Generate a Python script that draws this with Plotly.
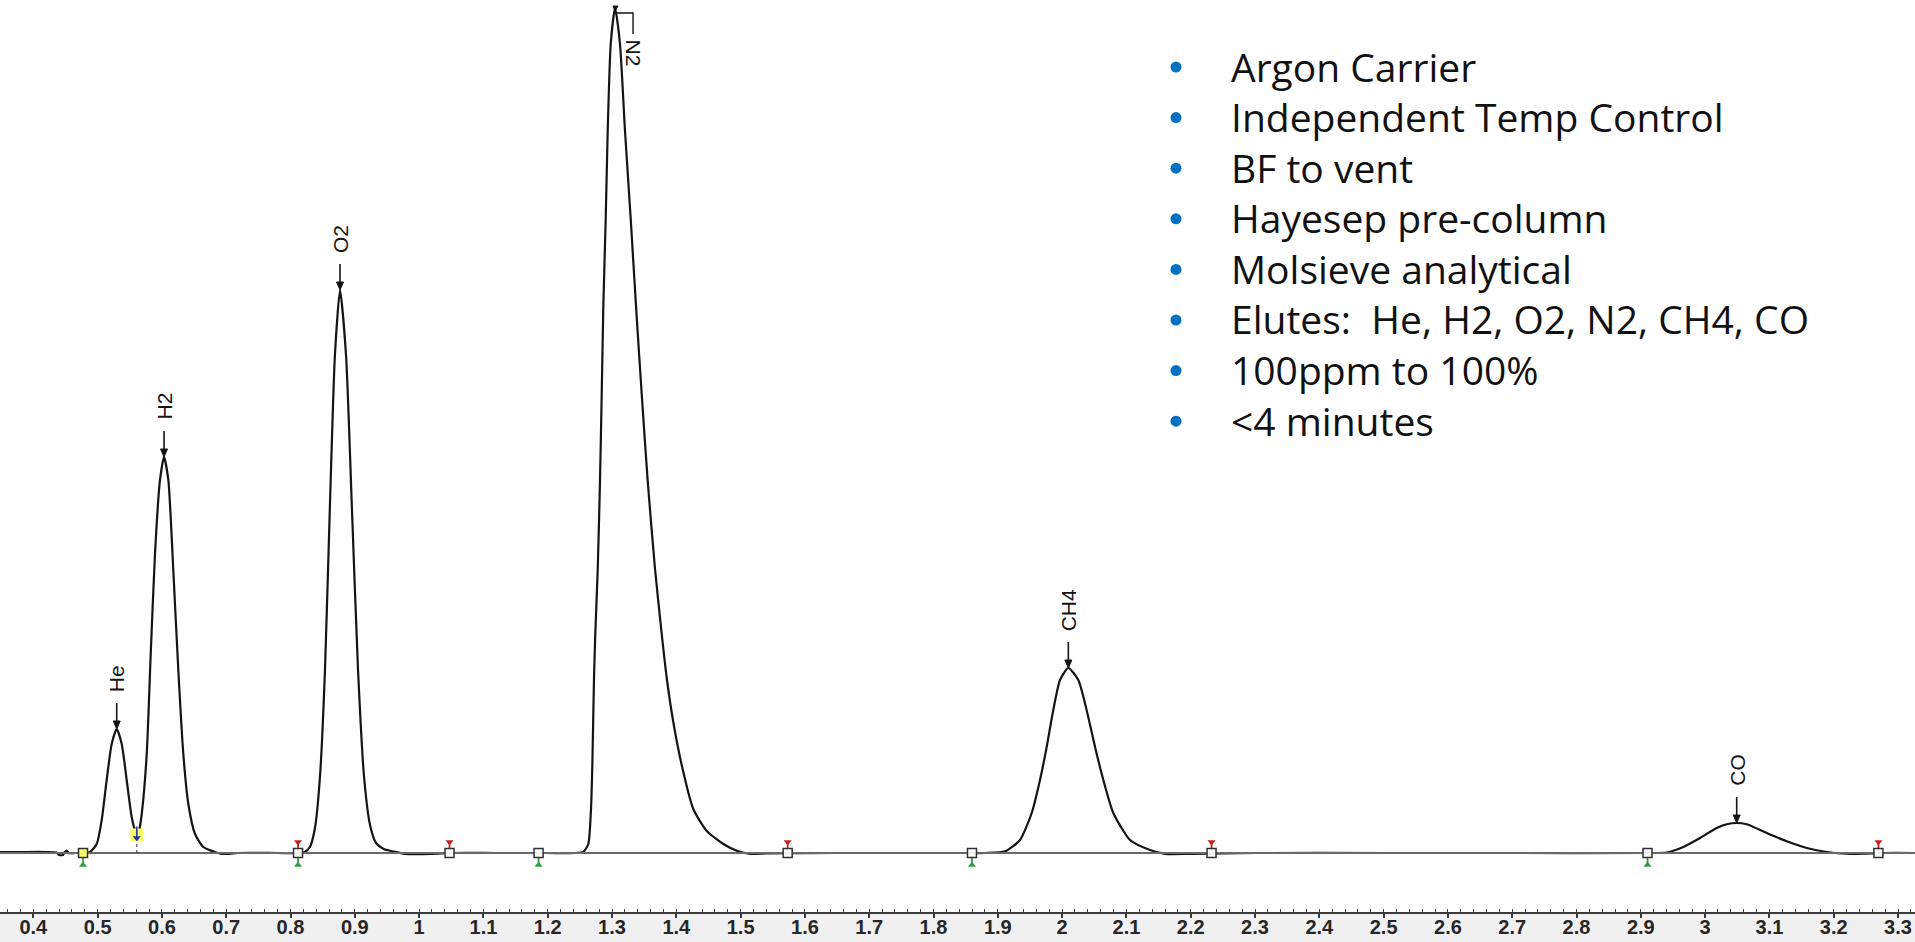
import plotly.graph_objects as go

# Chromatogram trace: retention time (min) vs detector response
time_min = [
    0.3482, 0.380, 0.420, 0.436, 0.440, 0.446, 0.449, 0.452, 0.455, 0.465, 0.478,
    0.4882, 0.4986, 0.5064, 0.5141, 0.5219, 0.5297, 0.5375, 0.5452, 0.5530, 0.5582, 0.5610, 0.5649, 0.5686,
    0.5764, 0.5826, 0.5893, 0.5970, 0.6033, 0.6100, 0.6177, 0.6255, 0.6333, 0.6411, 0.6515, 0.6644, 0.6800,
    0.692, 0.705, 0.718, 0.780,
    0.815, 0.822, 0.8302, 0.838, 0.8458, 0.8536, 0.861, 0.869, 0.877, 0.8864, 0.8957, 0.905, 0.9144, 0.9237,
    0.933, 0.945, 0.960, 0.978, 1.020, 1.050, 1.120, 1.200, 1.245,
    1.2554, 1.2631, 1.2673, 1.2694, 1.2720, 1.2740, 1.2778, 1.2813, 1.2840, 1.2865, 1.2902, 1.2933, 1.2980,
    1.3047, 1.3124, 1.3202, 1.3291, 1.3373, 1.3462, 1.3555, 1.3669, 1.3773, 1.3851, 1.3953, 1.4084, 1.4264,
    1.4473, 1.4731, 1.4950, 1.5150, 1.540, 1.650, 1.750, 1.850, 1.880,
    1.9112, 1.9345, 1.9527, 1.9656, 1.9760, 1.9854, 1.9967, 2.0097, 2.0252, 2.0392, 2.0512, 2.0641, 2.0796,
    2.1056, 2.1367, 2.1600, 2.200, 2.300, 2.500, 2.700, 2.900,
    2.9402, 2.9661, 2.9921, 3.0180, 3.0336, 3.0491, 3.0647, 3.0958, 3.1269, 3.1580, 3.1891, 3.2253, 3.2800, 3.3264,
]
signal = [
    1, 1, 1, 0.5, -2, -2, 1, 2.5, 0, 0, 0,
    1, 9, 33, 73, 109, 124, 109, 73, 36, 23, 20, 24, 39,
    99, 199, 300, 373, 396, 373, 283, 183, 99, 49, 19, 6, 1.5,
    -0.8, -0.8, 0, 0,
    0, 1, 6, 25, 76, 183, 341, 497, 563, 497, 341, 183, 76, 28,
    10, 4, 1.5, -0.8, -0.8, 0, 0, 0, 0,
    1, 9, 44, 88, 175, 219, 284, 372, 459, 547, 634, 722, 809,
    845, 809, 722, 634, 547, 459, 372, 284, 219, 175, 131, 88, 44,
    22, 9, 2, -0.8, -0.5, 0, 0, 0, 0,
    1.6, 13, 40, 73, 106, 140, 173, 185, 173, 140, 106, 73, 40,
    13, 3, -0.8, -0.8, 0, 0, 0, 0,
    0.5, 6, 15, 25, 28.7, 30, 28.7, 20, 11.7, 5, 1, -0.8, 0, 0,
]

# Identified components: name, apex retention time, apex response
peak_names = ["He", "H2", "O2", "N2", "CH4", "CO"]
peak_rt = [0.5297, 0.6033, 0.877, 1.3047, 2.0097, 3.0491]
peak_height = [124, 396, 563, 845, 185, 30]

# Integration events
peak_starts = [0.4773, 0.8117, 1.1858, 1.8598, 2.9104]
peak_ends = [0.8117, 1.0473, 1.5732, 2.2324, 3.2695]
valley_drop_rt = 0.561
valley_drop_level = 20

# Time axis
tick_values = [0.4, 0.5, 0.6, 0.7, 0.8, 0.9, 1.0, 1.1, 1.2, 1.3, 1.4, 1.5, 1.6, 1.7, 1.8,
               1.9, 2.0, 2.1, 2.2, 2.3, 2.4, 2.5, 2.6, 2.7, 2.8, 2.9, 3.0, 3.1, 3.2, 3.3]
tick_labels = ["0.4", "0.5", "0.6", "0.7", "0.8", "0.9", "1", "1.1", "1.2", "1.3", "1.4", "1.5",
               "1.6", "1.7", "1.8", "1.9", "2", "2.1", "2.2", "2.3", "2.4", "2.5", "2.6", "2.7",
               "2.8", "2.9", "3", "3.1", "3.2", "3.3"]
x_range = [0.3482, 3.3264]

# Method notes
notes = [
    "Argon Carrier",
    "Independent Temp Control",
    "BF to vent",
    "Hayesep pre-column",
    "Molsieve analytical",
    "Elutes:  He, H2, O2, N2, CH4, CO",
    "100ppm to 100%",
    "<4 minutes",
]

W, H = 1915, 942
MARGIN_B = 30
PLOT_H = H - MARGIN_B
LABEL_FONT = "Arial, Liberation Sans, sans-serif"
INK = "#141414"

fig = go.Figure()

# Detector signal
fig.add_trace(go.Scatter(
    x=time_min, y=signal, mode="lines",
    line=dict(color=INK, width=2.2, shape="spline", smoothing=0.6),
    hoverinfo="skip", showlegend=False,
))

# Integration baseline
fig.add_trace(go.Scatter(
    x=x_range, y=[0, 0], mode="lines",
    line=dict(color="#6a6a6a", width=2),
    hoverinfo="skip", showlegend=False,
))

boundaries = sorted(set(peak_starts + peak_ends))

# End-of-peak pins (red, above the baseline)
fig.add_trace(go.Scatter(
    x=peak_ends, y=[7] * len(peak_ends), mode="markers",
    marker=dict(symbol="line-ns", size=7, line=dict(color="#b03020", width=1.8)),
    hoverinfo="skip", showlegend=False,
))
fig.add_trace(go.Scatter(
    x=peak_ends, y=[11] * len(peak_ends), mode="markers",
    marker=dict(symbol="triangle-down", size=7, color="#c82020"),
    hoverinfo="skip", showlegend=False,
))
# Start-of-peak pins (green, below the baseline)
fig.add_trace(go.Scatter(
    x=peak_starts, y=[-8] * len(peak_starts), mode="markers",
    marker=dict(symbol="line-ns", size=7, line=dict(color="#2e9e3e", width=1.8)),
    hoverinfo="skip", showlegend=False,
))
fig.add_trace(go.Scatter(
    x=peak_starts, y=[-12] * len(peak_starts), mode="markers",
    marker=dict(symbol="triangle-up", size=7, color="#2ea043"),
    hoverinfo="skip", showlegend=False,
))

# Boundary boxes on the baseline (first one highlighted)
fig.add_trace(go.Scatter(
    x=boundaries, y=[0] * len(boundaries), mode="markers",
    marker=dict(symbol="square", size=9,
                color=["#ffff66"] + ["rgba(255,255,255,0.9)"] * (len(boundaries) - 1),
                line=dict(color="#303030", width=1.5)),
    hoverinfo="skip", showlegend=False,
))

# Valley drop between He and H2
fig.add_trace(go.Scatter(
    x=[valley_drop_rt, valley_drop_rt], y=[0, valley_drop_level - 10], mode="lines",
    line=dict(color="#303030", width=1, dash="dot"),
    hoverinfo="skip", showlegend=False,
))
fig.add_trace(go.Scatter(
    x=[valley_drop_rt], y=[valley_drop_level - 2], mode="markers",
    marker=dict(symbol="square", size=13, color="#ffff66", line=dict(width=0)),
    hoverinfo="skip", showlegend=False,
))
fig.add_trace(go.Scatter(
    x=[valley_drop_rt], y=[valley_drop_level + 1], mode="markers",
    marker=dict(symbol="line-ns", size=8, line=dict(color="#1f3a9a", width=1.6)),
    hoverinfo="skip", showlegend=False,
))
fig.add_trace(go.Scatter(
    x=[valley_drop_rt], y=[valley_drop_level - 5], mode="markers",
    marker=dict(symbol="triangle-down", size=7, color="#1f3a9a"),
    hoverinfo="skip", showlegend=False,
))

shapes = []
annotations = []

# Peak labels with arrows pointing at each apex
for name, rt, ht in zip(peak_names, peak_rt, peak_height):
    if name == "N2":
        shapes.append(dict(
            type="path", xref="x", yref="y", xsizemode="pixel", ysizemode="pixel",
            xanchor=rt, yanchor=ht, path="M 2,-5 L 18,-5 L 18,-26",
            line=dict(color=INK, width=1.4),
        ))
        shapes.append(dict(
            type="path", xref="x", yref="y", xsizemode="pixel", ysizemode="pixel",
            xanchor=rt, yanchor=ht, path="M -2,2 L 3,2 L 0,-3 Z",
            fillcolor=INK, line=dict(color=INK, width=1),
        ))
        annotations.append(dict(
            x=rt, y=ht, xref="x", yref="y", text=name, textangle=90,
            showarrow=False, xshift=18, yshift=-29, yanchor="top",
            font=dict(family=LABEL_FONT, size=21, color=INK),
        ))
        continue
    shapes.append(dict(
        type="line", xref="x", yref="y", xsizemode="pixel", ysizemode="pixel",
        xanchor=rt, yanchor=ht, x0=0, x1=0, y0=5, y1=26,
        line=dict(color=INK, width=1.6),
    ))
    shapes.append(dict(
        type="path", xref="x", yref="y", xsizemode="pixel", ysizemode="pixel",
        xanchor=rt, yanchor=ht, path="M -3.5,8 L 3.5,8 L 0,0 Z",
        fillcolor=INK, line=dict(color=INK, width=1),
    ))
    annotations.append(dict(
        x=rt, y=ht, xref="x", yref="y", text=name, textangle=-90,
        showarrow=False, yshift=35, yanchor="bottom",
        font=dict(family=LABEL_FONT, size=21, color=INK),
    ))

# Bulleted method notes
NOTE_TOP = 66
NOTE_STEP = 50.6
for i, note in enumerate(notes):
    y_px = NOTE_TOP + i * NOTE_STEP
    y_paper = 1 - y_px / PLOT_H
    shapes.append(dict(
        type="circle", xref="paper", yref="paper", xsizemode="pixel", ysizemode="pixel",
        xanchor=1176 / W, yanchor=1 - (y_px + 1) / PLOT_H,
        x0=-5.5, x1=5.5, y0=-5.5, y1=5.5,
        fillcolor="#0070c0", line=dict(width=0),
    ))
    annotations.append(dict(
        x=1229 / W, y=y_paper, xref="paper", yref="paper", text=note,
        showarrow=False, xanchor="left", yanchor="middle",
        font=dict(family="Open Sans", size=39, color="#111111"),
    ))

fig.update_layout(
    width=W, height=H, autosize=False,
    margin=dict(l=0, r=0, t=0, b=MARGIN_B, pad=0),
    paper_bgcolor="#f0f0f0", plot_bgcolor="white",
    shapes=shapes, annotations=annotations,
    showlegend=False,
    xaxis=dict(
        range=x_range, showgrid=False, zeroline=False,
        showline=True, linecolor="#3a3a3a", linewidth=2,
        tickmode="array", tickvals=tick_values, ticktext=tick_labels,
        ticks="outside", ticklen=4, tickwidth=1.5, tickcolor="#3a3a3a",
        ticklabelstandoff=-8,
        tickfont=dict(family=LABEL_FONT, size=20, color="#262626", weight="bold"),
        minor=dict(tickmode="linear", tick0=0, dtick=0.02, ticks="inside",
                   ticklen=3, tickwidth=1.2, tickcolor="#3a3a3a"),
        automargin=False, fixedrange=True,
    ),
    yaxis=dict(range=[-(PLOT_H - 853), 853], visible=False, fixedrange=True),
)

fig.write_html("out.html")
